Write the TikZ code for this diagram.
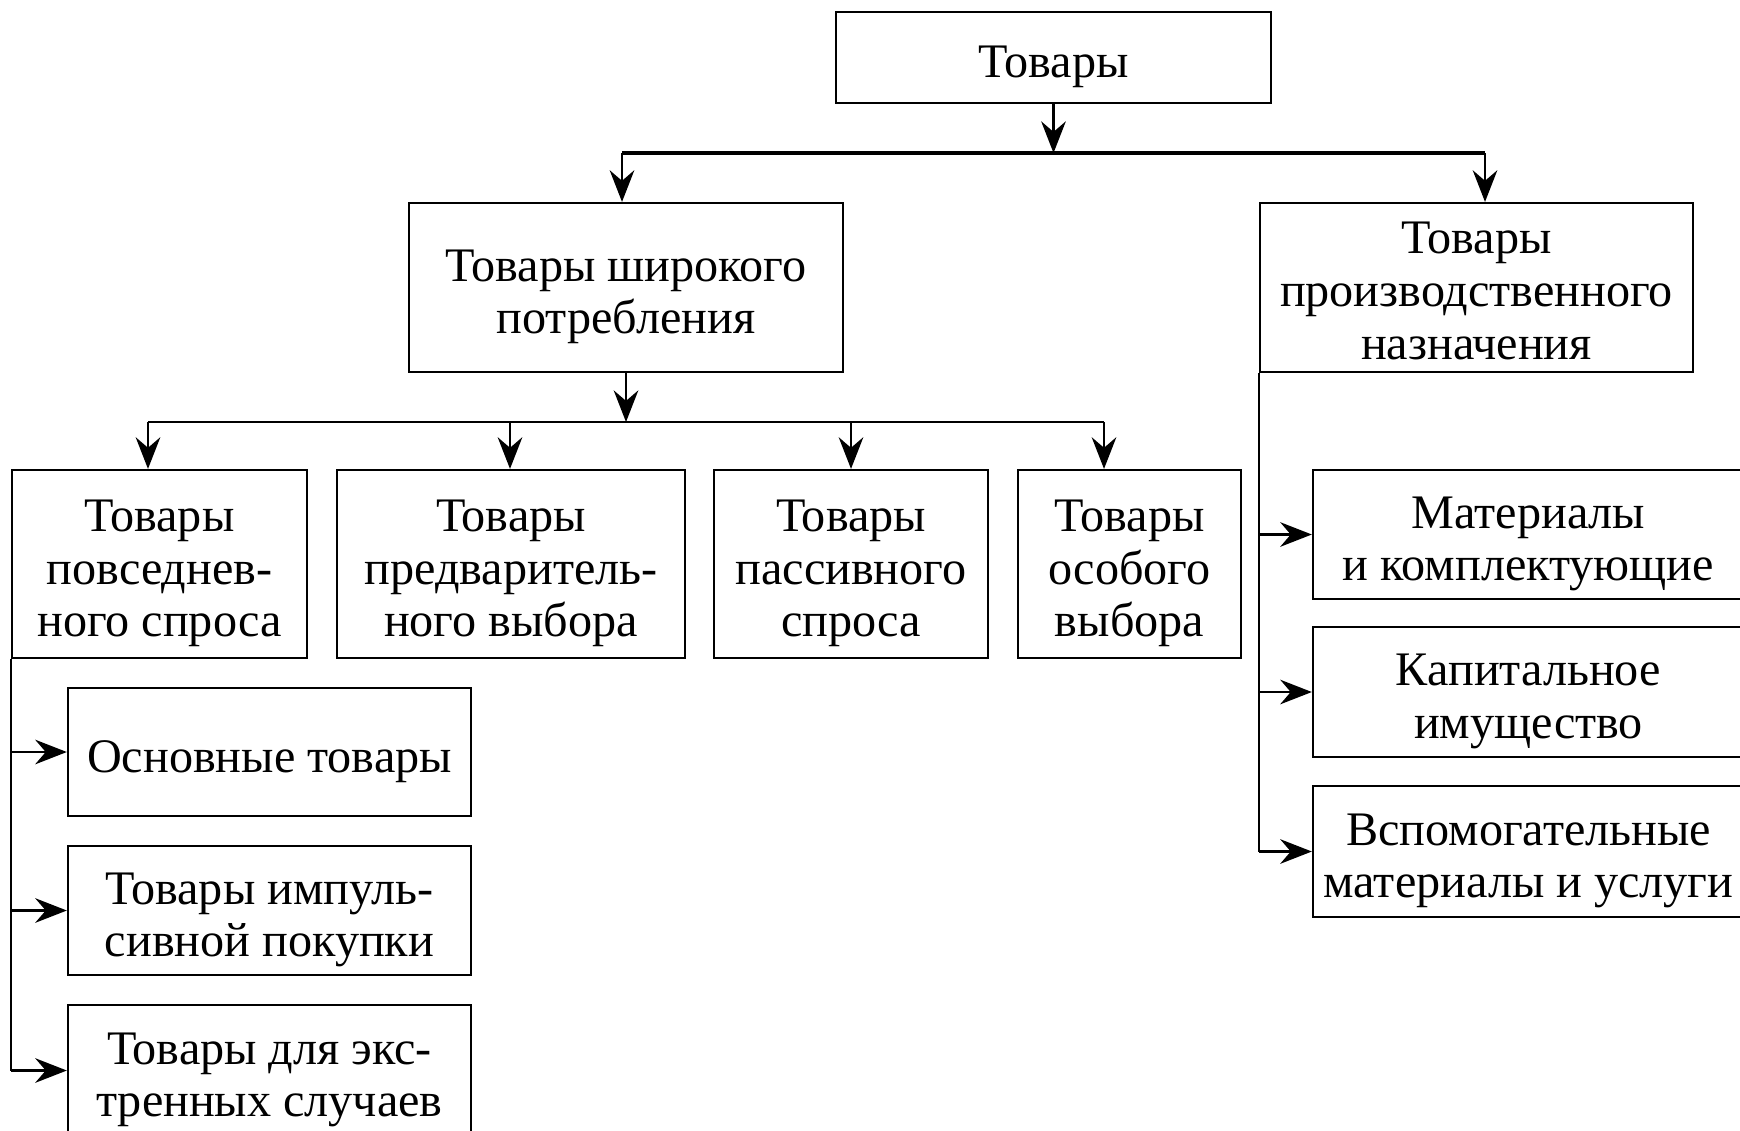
\documentclass[tikz,border=0pt]{standalone}
\usepackage{fontspec}
\setmainfont{Liberation Serif}
\usetikzlibrary{arrows.meta}
\begin{document}
\begin{tikzpicture}[x=0.01cm, y=-0.01cm,
  every node/.style={font=\fontsize{13.7pt}{15pt}\selectfont, align=center},
  blk/.style={draw, line width=0.6pt, inner sep=0pt, execute at begin node={\rule{0pt}{#1}}},
  blk/.default=14.3pt,
  arr/.style={-{Stealth[length=9pt,width=7pt,inset=3pt]}, line width=0.6pt}]
  \useasboundingbox (0,0) rectangle (1740,1130);
  % levels 1 and 2
  \node[blk, minimum width=4.35cm, minimum height=0.91cm] (goods) at (1053.5,57.5) {Товары};
  \node[blk=29.3pt, minimum width=4.34cm, minimum height=1.69cm] (wide) at (626,287.5) {Товары широкого\\потребления};
  \node[blk=41pt, minimum width=4.33cm, minimum height=1.69cm] (prod) at (1476.5,287.5) {Товары\\производственного\\назначения};
  % consumer goods
  \node[blk=44.3pt, minimum width=2.95cm, minimum height=1.88cm] (daily) at (159.5,564) {Товары\\повседнев-\\ного спроса};
  \node[blk=44.3pt, minimum width=3.48cm, minimum height=1.88cm] (prior) at (511,564) {Товары\\предваритель-\\ного выбора};
  \node[blk=44.3pt, minimum width=2.74cm, minimum height=1.88cm] (passive) at (851,564) {Товары\\пассивного\\спроса};
  \node[blk=44.3pt, minimum width=2.23cm, minimum height=1.88cm] (special) at (1129.5,564) {Товары\\особого\\выбора};
  \node[blk, minimum width=4.03cm, minimum height=1.28cm] (basic) at (269.5,752) {Основные товары};
  \node[blk=29.3pt, minimum width=4.03cm, minimum height=1.29cm] (impulse) at (269.5,910.5) {Товары импуль-\\сивной покупки};
  \node[blk=29.3pt, minimum width=4.03cm, minimum height=1.31cm] (emerg) at (269.5,1070.5) {Товары для экс-\\тренных случаев};
  % industrial goods
  \node[blk=29.3pt, minimum width=4.31cm, minimum height=1.29cm] (mater) at (1528.5,534.5) {Материалы\\и комплектующие};
  \node[blk=29.3pt, minimum width=4.31cm, minimum height=1.30cm] (capital) at (1528.5,692) {Капитальное\\имущество};
  \node[blk=29.3pt, minimum width=4.31cm, minimum height=1.31cm] (aux) at (1528.5,851.5) {Вспомогательные\\материалы и услуги};
  % top bus
  \coordinate (bus1) at (1053.5,153);
  \coordinate (jw) at (622,153);
  \coordinate (jp) at (1485,153);
  \draw[arr] (goods) -- (bus1);
  \draw[line width=1pt] (jw) -- (jp);
  \draw[arr] (jw) -- (jw |- wide.north);
  \draw[arr] (jp) -- (jp |- prod.north);
  % second bus
  \coordinate (bus2) at (626,422);
  \coordinate (j1) at (148,422);
  \coordinate (j2) at (510,422);
  \coordinate (j3) at (851,422);
  \coordinate (j4) at (1104,422);
  \draw[arr] (wide) -- (bus2);
  \draw[line width=0.6pt] (j1) -- (j4);
  \foreach \j/\c in {j1/daily, j2/prior, j3/passive, j4/special}
    \draw[arr] (\j) -- (\j |- \c.north);
  % side spines
  \draw[line width=0.6pt] (daily.south west) -- (daily.south west |- emerg.west);
  \foreach \c in {basic, impulse, emerg}
    \draw[arr] (daily.south west |- \c.west) -- (\c.west);
  \draw[line width=0.6pt] (prod.south west) -- (prod.south west |- aux.west);
  \foreach \c in {mater, capital, aux}
    \draw[arr] (prod.south west |- \c.west) -- (\c.west);
\end{tikzpicture}
\end{document}
